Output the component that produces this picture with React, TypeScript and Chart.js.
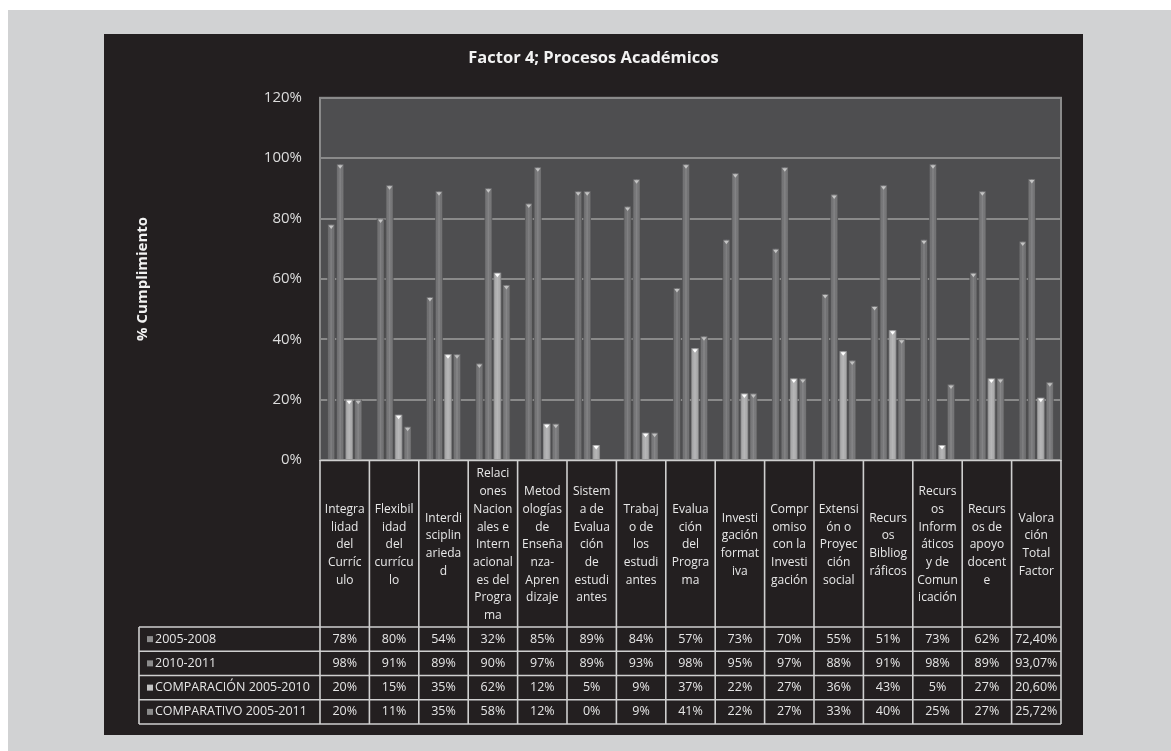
import React, { useEffect, useRef } from 'react';
import { Chart, registerables } from 'chart.js';

Chart.register(...registerables);

const chartTitle = 'Factor 4; Procesos Académicos';
const yAxisTitle = '% Cumplimiento';

const categories: string[][] = [
  ['Integra', 'lidad', 'del', 'Curríc', 'ulo'],
  ['Flexibil', 'idad', 'del', 'currícu', 'lo'],
  ['Interdi', 'sciplin', 'arieda', 'd'],
  ['Relaci', 'ones', 'Nacion', 'ales e', 'Intern', 'acional', 'es del', 'Progra', 'ma'],
  ['Metod', 'ologías', 'de', 'Enseña', 'nza-', 'Apren', 'dizaje'],
  ['Sistem', 'a de', 'Evalua', 'ción', 'de', 'estudi', 'antes'],
  ['Trabaj', 'o de', 'los', 'estudi', 'antes'],
  ['Evalua', 'ción', 'del', 'Progra', 'ma'],
  ['Investi', 'gación', 'format', 'iva'],
  ['Compr', 'omiso', 'con la', 'Investi', 'gación'],
  ['Extensi', 'ón o', 'Proyec', 'ción', 'social'],
  ['Recurs', 'os', 'Bibliog', 'ráficos'],
  ['Recurs', 'os', 'Inform', 'áticos', 'y de', 'Comun', 'icación'],
  ['Recurs', 'os de', 'apoyo', 'docent', 'e'],
  ['Valora', 'ción', 'Total', 'Factor'],
];

const seriesNames = ['2005-2008', '2010-2011', 'COMPARACIÓN 2005-2010', 'COMPARATIVO 2005-2011'];

const values2005_2008 = [78, 80, 54, 32, 85, 89, 84, 57, 73, 70, 55, 51, 73, 62, 72.4];
const values2010_2011 = [98, 91, 89, 90, 97, 89, 93, 98, 95, 97, 88, 91, 98, 89, 93.07];
const valuesComparacion = [20, 15, 35, 62, 12, 5, 9, 37, 22, 27, 36, 43, 5, 27, 20.6];
const valuesComparativo = [20, 11, 35, 58, 12, 0, 9, 41, 22, 27, 33, 40, 25, 27, 25.72];

const yMin = 0;
const yMax = 120;
const yStep = 20;

const barColors = ['#69696b', '#6d6d6f', '#a9a9aa', '#707072'];
const capColors = ['#c4c4c4', '#c4c4c4', '#ffffff', '#c0c0c0'];
const markerColors = ['#8c8c8c', '#8c8c8c', '#c2c2c2', '#8a8a8a'];

const FONT = "'Open Sans', 'DejaVu Sans', sans-serif";

function fmt(v: number): string {
  if (Number.isInteger(v)) return `${v}%`;
  return `${v.toFixed(2).replace('.', ',')}%`;
}

const plotBg = {
  id: 'plotBg',
  beforeDraw(chart: any) {
    const { ctx, chartArea } = chart;
    ctx.save();
    ctx.fillStyle = '#4e4e50';
    ctx.fillRect(chartArea.left, chartArea.top, chartArea.right - chartArea.left, chartArea.bottom - chartArea.top);
    ctx.strokeStyle = '#8a8a8a';
    ctx.lineWidth = 2;
    ctx.strokeRect(chartArea.left, chartArea.top, chartArea.right - chartArea.left, chartArea.bottom - chartArea.top);
    ctx.restore();
  },
};

const barShade = {
  id: 'barShade',
  afterDatasetsDraw(chart: any) {
    const ctx = chart.ctx;
    chart.data.datasets.forEach((_ds: any, di: number) => {
      const meta = chart.getDatasetMeta(di);
      meta.data.forEach((el: any) => {
        const { x, y, base, width } = el.getProps(['x', 'y', 'base', 'width'], true);
        const h = base - y;
        if (h < 0.5) return;
        const l = x - width / 2;
        const g = ctx.createLinearGradient(l, 0, l + width, 0);
        g.addColorStop(0, 'rgba(0,0,0,0.30)');
        g.addColorStop(0.3, 'rgba(255,255,255,0.04)');
        g.addColorStop(0.5, 'rgba(255,255,255,0.16)');
        g.addColorStop(0.7, 'rgba(255,255,255,0.04)');
        g.addColorStop(1, 'rgba(0,0,0,0.34)');
        ctx.save();
        ctx.fillStyle = g;
        ctx.fillRect(l, y, width, h);
        ctx.fillStyle = capColors[di];
        ctx.beginPath();
        ctx.moveTo(l + 1.2, y + 1);
        ctx.lineTo(l + width - 1.2, y + 1);
        ctx.lineTo(x, y + 4.5);
        ctx.closePath();
        ctx.fill();
        ctx.restore();
      });
    });
  },
};

const dataTable = {
  id: 'dataTable',
  afterDraw(chart: any) {
    const { ctx, chartArea } = chart;
    const xs = chart.scales.x;
    const n = categories.length;
    const colW = (chartArea.right - chartArea.left) / n;
    const headerTop = chartArea.bottom;
    const rowsTop = xs.bottom;
    const rowH = 24.25;
    const tableBottom = rowsTop + rowH * seriesNames.length;
    const legendLeft = 35;
    const rows = [values2005_2008, values2010_2011, valuesComparacion, valuesComparativo];

    ctx.save();
    ctx.strokeStyle = '#cfcfcf';
    ctx.lineWidth = 1.6;
    ctx.beginPath();
    ctx.moveTo(chartArea.left, headerTop + 0.5);
    ctx.lineTo(chartArea.right, headerTop + 0.5);
    ctx.stroke();
    for (let i = 0; i <= n; i++) {
      const px = i < n ? xs.getPixelForValue(i) - colW / 2 : xs.getPixelForValue(n - 1) + colW / 2;
      ctx.beginPath();
      ctx.moveTo(px, headerTop);
      ctx.lineTo(px, tableBottom);
      ctx.stroke();
    }
    for (let r = 0; r <= rows.length; r++) {
      const yy = rowsTop + r * rowH;
      ctx.beginPath();
      ctx.moveTo(legendLeft, yy);
      ctx.lineTo(chartArea.right, yy);
      ctx.stroke();
    }
    ctx.beginPath();
    ctx.moveTo(legendLeft, rowsTop);
    ctx.lineTo(legendLeft, tableBottom);
    ctx.stroke();

    ctx.font = `12.5px ${FONT}`;
    ctx.textBaseline = 'middle';
    rows.forEach((vals, r) => {
      const cy = rowsTop + r * rowH + rowH / 2;
      ctx.fillStyle = markerColors[r];
      ctx.fillRect(legendLeft + 8, cy - 3, 6, 6);
      ctx.fillStyle = '#e6e6e6';
      ctx.textAlign = 'left';
      ctx.fillText(seriesNames[r], legendLeft + 16, cy);
      ctx.textAlign = 'center';
      vals.forEach((v, i) => {
        ctx.fillText(fmt(v), xs.getPixelForValue(i), cy);
      });
    });
    ctx.restore();
  },
};

export default function App() {
  const canvasRef = useRef<HTMLCanvasElement | null>(null);

  useEffect(() => {
    const canvas = canvasRef.current;
    if (!canvas) return;
    const series = [values2005_2008, values2010_2011, valuesComparacion, valuesComparativo];
    const chart = new Chart(canvas, {
      type: 'bar',
      data: {
        labels: categories,
        datasets: series.map((vals, i) => ({
          label: seriesNames[i],
          data: vals,
          backgroundColor: barColors[i],
          borderWidth: 0,
          categoryPercentage: 0.73,
          barPercentage: 0.85,
        })),
      },
      options: {
        animation: false,
        responsive: false,
        devicePixelRatio: 1,
        layout: { padding: { left: 22, right: 22, top: 0, bottom: 108 } },
        plugins: {
          legend: { display: false },
          tooltip: { enabled: false },
          title: {
            display: true,
            text: chartTitle,
            color: '#f2f2f2',
            font: { family: FONT, size: 16.5, weight: 'bold' },
            padding: { top: 14, bottom: 30 },
          },
        },
        scales: {
          x: {
            offset: true,
            grid: { display: false, drawTicks: false },
            border: { display: false },
            ticks: {
              color: '#e8e8e8',
              font: { family: FONT, size: 12, lineHeight: 1.475 },
              padding: 14,
              crossAlign: 'center',
              autoSkip: false,
              maxRotation: 0,
              minRotation: 0,
            },
            afterFit: (s: any) => {
              s.height = 167;
            },
          },
          y: {
            min: yMin,
            max: yMax,
            ticks: {
              stepSize: yStep,
              color: '#dcdcdc',
              font: { family: FONT, size: 15 },
              padding: 18,
              callback: (v: any) => `${v}%`,
            },
            grid: { color: '#8a8a8a', lineWidth: 2, drawTicks: false },
            border: { display: true, color: '#8a8a8a', width: 2 },
            title: {
              display: true,
              text: yAxisTitle,
              color: '#f2f2f2',
              font: { family: FONT, size: 15, weight: 'bold' },
              padding: { top: 8, bottom: 0 },
            },
            afterFit: (s: any) => {
              s.width = 194;
            },
          },
        },
      },
      plugins: [plotBg, barShade, dataTable],
    } as any);
    return () => chart.destroy();
  }, []);

  return (
    <div style={{ position: 'absolute', left: 0, top: 0, width: 1171, height: 751, background: '#ffffff', overflow: 'hidden' }}>
      <div style={{ position: 'absolute', left: 8, top: 10, width: 1163, height: 741, background: '#d1d2d3' }} />
      <div style={{ position: 'absolute', left: 104, top: 34, width: 979, height: 701, background: '#231f20' }}>
        <canvas ref={canvasRef} width={979} height={701} style={{ display: 'block', width: 979, height: 701 }} />
      </div>
    </div>
  );
}
